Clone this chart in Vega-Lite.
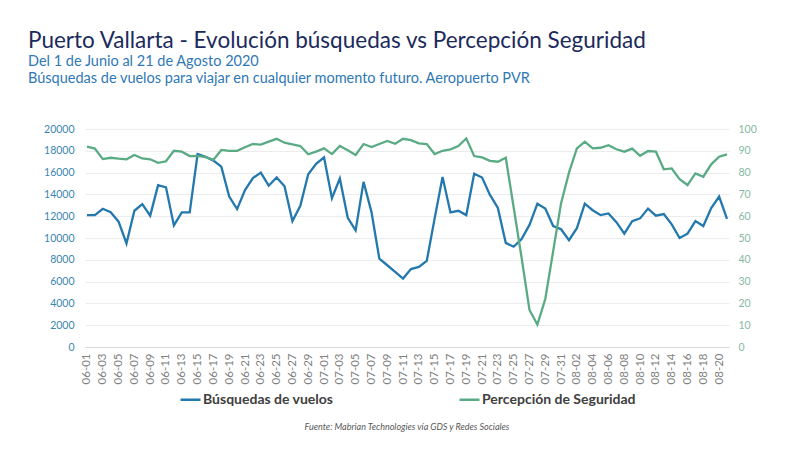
{
  "$schema": "https://vega.github.io/schema/vega-lite/v6.json",
  "width": 796,
  "height": 454,
  "autosize": {"type": "fit", "contains": "padding"},
  "padding": {"left": 28, "top": 30, "right": 39, "bottom": 22},
  "background": "white",
  "title": {
    "text": "Puerto Vallarta - Evolución búsquedas vs Percepción Seguridad",
    "subtitle": ["Del 1 de Junio al 21 de Agosto 2020", "Búsquedas de vuelos para viajar en cualquier momento futuro. Aeropuerto PVR"],
    "anchor": "start",
    "font": "Lato",
    "fontSize": 22.5,
    "fontWeight": "normal",
    "color": "#1b2a5c",
    "subtitleFont": "Lato",
    "subtitleFontSize": 14.5,
    "subtitleColor": "#2f78b5",
    "subtitlePadding": 2,
    "subtitleLineHeight": 17,
    "offset": 39
  },
  "config": {
    "view": {"stroke": null},
    "font": "Lato",
    "legend": {"layout": {"bottom": {"anchor": "middle"}}}
  },
  "data": {
    "values": [
      {"date": "06-01", "busquedas": 12100, "percepcion": 91.9},
      {"date": "06-02", "busquedas": 12100, "percepcion": 91.0},
      {"date": "06-03", "busquedas": 12680, "percepcion": 86.2},
      {"date": "06-04", "busquedas": 12370, "percepcion": 86.8},
      {"date": "06-05", "busquedas": 11500, "percepcion": 86.4},
      {"date": "06-06", "busquedas": 9500, "percepcion": 86.1},
      {"date": "06-07", "busquedas": 12500, "percepcion": 88.1},
      {"date": "06-08", "busquedas": 13100, "percepcion": 86.5},
      {"date": "06-09", "busquedas": 12050, "percepcion": 86.1},
      {"date": "06-10", "busquedas": 14850, "percepcion": 84.5},
      {"date": "06-11", "busquedas": 14650, "percepcion": 85.2},
      {"date": "06-12", "busquedas": 11150, "percepcion": 90.0},
      {"date": "06-13", "busquedas": 12350, "percepcion": 89.6},
      {"date": "06-14", "busquedas": 12350, "percepcion": 87.6},
      {"date": "06-15", "busquedas": 17700, "percepcion": 87.7},
      {"date": "06-16", "busquedas": 17450, "percepcion": 87.1},
      {"date": "06-17", "busquedas": 17100, "percepcion": 85.8},
      {"date": "06-18", "busquedas": 16550, "percepcion": 90.4},
      {"date": "06-19", "busquedas": 13800, "percepcion": 90.0},
      {"date": "06-20", "busquedas": 12650, "percepcion": 90.0},
      {"date": "06-21", "busquedas": 14400, "percepcion": 91.6},
      {"date": "06-22", "busquedas": 15500, "percepcion": 93.1},
      {"date": "06-23", "busquedas": 16000, "percepcion": 92.8},
      {"date": "06-24", "busquedas": 14800, "percepcion": 94.2},
      {"date": "06-25", "busquedas": 15550, "percepcion": 95.5},
      {"date": "06-26", "busquedas": 14750, "percepcion": 93.7},
      {"date": "06-27", "busquedas": 11550, "percepcion": 93.0},
      {"date": "06-28", "busquedas": 12950, "percepcion": 92.2},
      {"date": "06-29", "busquedas": 15850, "percepcion": 88.4},
      {"date": "06-30", "busquedas": 16800, "percepcion": 89.6},
      {"date": "07-01", "busquedas": 17400, "percepcion": 91.1},
      {"date": "07-02", "busquedas": 13650, "percepcion": 88.5},
      {"date": "07-03", "busquedas": 15450, "percepcion": 92.2},
      {"date": "07-04", "busquedas": 11850, "percepcion": 90.2},
      {"date": "07-05", "busquedas": 10700, "percepcion": 88.1},
      {"date": "07-06", "busquedas": 15150, "percepcion": 93.1},
      {"date": "07-07", "busquedas": 12400, "percepcion": 91.7},
      {"date": "07-08", "busquedas": 8100, "percepcion": 93.1},
      {"date": "07-09", "busquedas": 7500, "percepcion": 94.5},
      {"date": "07-10", "busquedas": 6900, "percepcion": 93.2},
      {"date": "07-11", "busquedas": 6280, "percepcion": 95.5},
      {"date": "07-12", "busquedas": 7150, "percepcion": 94.9},
      {"date": "07-13", "busquedas": 7350, "percepcion": 93.4},
      {"date": "07-14", "busquedas": 7900, "percepcion": 93.1},
      {"date": "07-15", "busquedas": 11800, "percepcion": 88.5},
      {"date": "07-16", "busquedas": 15600, "percepcion": 90.0},
      {"date": "07-17", "busquedas": 12350, "percepcion": 90.7},
      {"date": "07-18", "busquedas": 12500, "percepcion": 92.2},
      {"date": "07-19", "busquedas": 12100, "percepcion": 95.7},
      {"date": "07-20", "busquedas": 15900, "percepcion": 87.6},
      {"date": "07-21", "busquedas": 15550, "percepcion": 87.0},
      {"date": "07-22", "busquedas": 13950, "percepcion": 85.4},
      {"date": "07-23", "busquedas": 12750, "percepcion": 85.0},
      {"date": "07-24", "busquedas": 9550, "percepcion": 86.8},
      {"date": "07-25", "busquedas": 9200, "percepcion": 64},
      {"date": "07-26", "busquedas": 9900, "percepcion": 41},
      {"date": "07-27", "busquedas": 11200, "percepcion": 17},
      {"date": "07-28", "busquedas": 13150, "percepcion": 10.3},
      {"date": "07-29", "busquedas": 12700, "percepcion": 22},
      {"date": "07-30", "busquedas": 11100, "percepcion": 44},
      {"date": "07-31", "busquedas": 10800, "percepcion": 66},
      {"date": "08-01", "busquedas": 9800, "percepcion": 80},
      {"date": "08-02", "busquedas": 10900, "percepcion": 91.1},
      {"date": "08-03", "busquedas": 13150, "percepcion": 94.2},
      {"date": "08-04", "busquedas": 12550, "percepcion": 91.1},
      {"date": "08-05", "busquedas": 12100, "percepcion": 91.4},
      {"date": "08-06", "busquedas": 12250, "percepcion": 92.6},
      {"date": "08-07", "busquedas": 11450, "percepcion": 90.7},
      {"date": "08-08", "busquedas": 10400, "percepcion": 89.6},
      {"date": "08-09", "busquedas": 11550, "percepcion": 91.0},
      {"date": "08-10", "busquedas": 11800, "percepcion": 87.7},
      {"date": "08-11", "busquedas": 12700, "percepcion": 89.9},
      {"date": "08-12", "busquedas": 12050, "percepcion": 89.6},
      {"date": "08-13", "busquedas": 12200, "percepcion": 81.5},
      {"date": "08-14", "busquedas": 11250, "percepcion": 81.9},
      {"date": "08-15", "busquedas": 10000, "percepcion": 77.0},
      {"date": "08-16", "busquedas": 10400, "percepcion": 74.3},
      {"date": "08-17", "busquedas": 11550, "percepcion": 79.6},
      {"date": "08-18", "busquedas": 11100, "percepcion": 78.1},
      {"date": "08-19", "busquedas": 12750, "percepcion": 83.8},
      {"date": "08-20", "busquedas": 13800, "percepcion": 87.3},
      {"date": "08-21", "busquedas": 11750, "percepcion": 88.4}
    ]
  },
  "encoding": {
    "x": {
      "field": "date",
      "type": "ordinal",
      "scale": {"type": "point", "padding": 0.25},
      "axis": {
        "title": null,
        "values": ["06-01","06-03","06-05","06-07","06-09","06-11","06-13","06-15","06-17","06-19","06-21","06-23","06-25","06-27","06-29","07-01","07-03","07-05","07-07","07-09","07-11","07-13","07-15","07-17","07-19","07-21","07-23","07-25","07-27","07-29","07-31","08-02","08-04","08-06","08-08","08-10","08-12","08-14","08-16","08-18","08-20"],
        "labelAngle": -90,
        "labelFont": "Lato",
        "labelFontSize": 11.5,
        "labelColor": "#808080",
        "labelPadding": 6,
        "ticks": false,
        "domain": true,
        "domainColor": "#d9d9d9",
        "grid": false
      }
    }
  },
  "layer": [
    {
      "mark": {"type": "line", "strokeWidth": 2.3},
      "encoding": {
        "y": {
          "field": "busquedas",
          "type": "quantitative",
          "scale": {"domain": [0, 20000]},
          "axis": {
            "title": null,
            "values": [0, 2000, 4000, 6000, 8000, 10000, 12000, 14000, 16000, 18000, 20000],
            "format": "d",
            "labelFont": "Lato",
            "labelFontSize": 10.5,
            "labelColor": "#3a86b3",
            "labelPadding": 11,
            "ticks": false,
            "domain": false,
            "grid": true,
            "gridColor": "#ececec",
            "minExtent": 57
          }
        },
        "color": {
          "datum": "Búsquedas de vuelos",
          "type": "nominal",
          "scale": {
            "domain": ["Búsquedas de vuelos", "Percepción de Seguridad"],
            "range": ["#2378ae", "#5aab85"]
          },
          "legend": {
            "orient": "bottom",
            "direction": "horizontal",
            "title": "Fuente: Mabrian Technologies vía GDS y Redes Sociales",
            "titleOrient": "bottom",
            "titleAnchor": "middle",
            "titleFont": "Lato",
            "titleFontStyle": "italic",
            "titleFontWeight": "normal",
            "titleFontSize": 9,
            "titleColor": "#595959",
            "titlePadding": 16,
            "titleLimit": 600,
            "labelFont": "Lato",
            "labelFontSize": 14,
            "labelFontWeight": "bold",
            "labelColor": "#404040",
            "labelLimit": 300,
            "labelOffset": 1,
            "symbolType": "stroke",
            "symbolStrokeWidth": 2.5,
            "symbolSize": 400,
            "columnPadding": 120,
            "offset": 4
          }
        }
      }
    },
    {
      "mark": {"type": "line", "strokeWidth": 2.3},
      "encoding": {
        "y": {
          "field": "percepcion",
          "type": "quantitative",
          "scale": {"domain": [0, 100]},
          "axis": {
            "orient": "right",
            "title": null,
            "values": [0, 10, 20, 30, 40, 50, 60, 70, 80, 90, 100],
            "labelFont": "Lato",
            "labelFontSize": 10.5,
            "labelColor": "#86b9a3",
            "labelPadding": 9,
            "ticks": false,
            "domain": false,
            "grid": false
          }
        },
        "color": {"datum": "Percepción de Seguridad", "type": "nominal"}
      }
    }
  ],
  "resolve": {"scale": {"y": "independent"}}
}
